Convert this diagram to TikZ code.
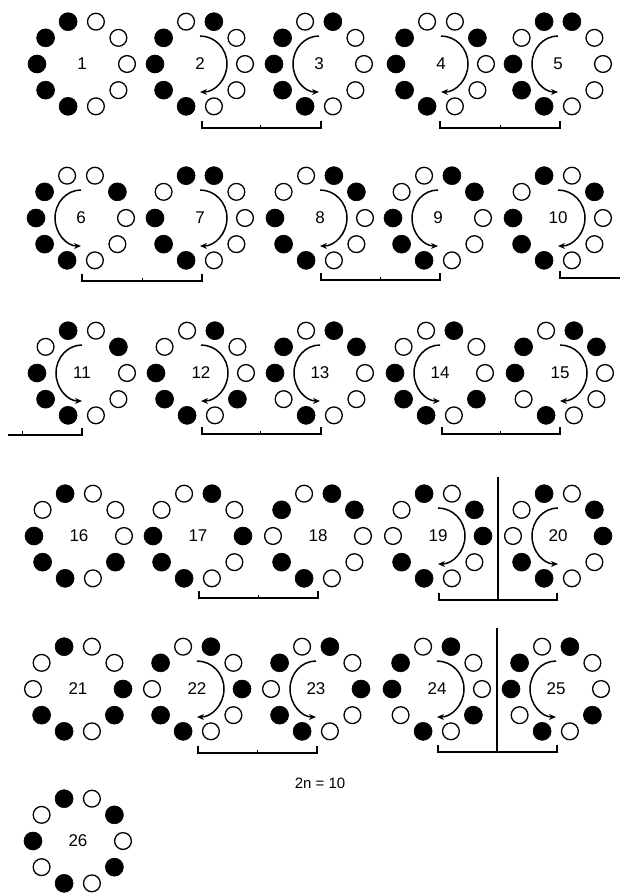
\documentclass[tikz,border=0pt]{standalone}
\usepackage{fontspec}
\setmainfont{Liberation Sans}
\usetikzlibrary{arrows.meta}
\newcommand\mkring[5]{%
  \foreach \s [count=\i from 0] in {#4} {%
    \node[\s] (#1-\i) at ({#2+45*cos(36*\i)},{#3+1-44.5*sin(36*\i)}) {};
  }%
  \node[lab] (#1) at (#2,#3+1) {#5};
}
\newcommand\cwarc[2]{\draw[arr] (#1,#2-27) arc[start angle=-90,end angle=90,x radius=27,y radius=28];}
\newcommand\ccwarc[2]{\draw[arr] (#1,#2-27) arc[start angle=270,end angle=90,x radius=26,y radius=28];}
\newcommand\mkbrk[4]{%
  \draw[brk] (#1,#3-7) -- (#1,#3) -- (#2,#3) -- (#2,#3-7);
  \draw[brk,line width=0.8pt] (#4,#3) -- (#4,#3-3);
}
\begin{document}
\begin{tikzpicture}[x=1pt,y=-1pt,
  bk/.style={circle,fill=black,draw=black,line width=0.6pt,inner sep=0pt,minimum size=18pt},
  wt/.style={circle,fill=white,draw=black,line width=1.3pt,inner sep=0pt,minimum size=16.8pt},
  lab/.style={font=\fontsize{17}{17}\selectfont,inner sep=0pt},
  arr/.style={line width=1.5pt,-{Stealth[length=7pt,width=6pt]}},
  brk/.style={line width=1.6pt},
]
\fill[white] (0,0) rectangle (620,895);
\useasboundingbox (0,0) rectangle (620,895);
% row 1
\mkring{r1}{82}{63}{wt,wt,wt,bk,bk,bk,bk,bk,wt,wt}{1}
\mkring{r2}{200}{63}{wt,wt,bk,wt,bk,bk,bk,bk,wt,wt}{2}
\mkring{r3}{319}{63}{wt,wt,bk,wt,bk,bk,bk,bk,wt,wt}{3}
\mkring{r4}{441}{63}{wt,bk,wt,wt,bk,bk,bk,bk,wt,wt}{4}
\mkring{r5}{558}{63}{wt,wt,bk,bk,wt,bk,bk,bk,wt,wt}{5}
% row 2
\mkring{r6}{81}{217}{wt,bk,wt,wt,bk,bk,bk,bk,wt,wt}{6}
\mkring{r7}{200}{217}{wt,wt,bk,bk,wt,bk,bk,bk,wt,wt}{7}
\mkring{r8}{320}{217}{wt,bk,bk,wt,wt,bk,bk,bk,wt,wt}{8}
\mkring{r9}{438}{217}{wt,bk,bk,wt,wt,bk,bk,bk,wt,wt}{9}
\mkring{r10}{558}{217}{wt,bk,wt,bk,wt,bk,bk,bk,wt,wt}{10}
% row 3
\mkring{r11}{82}{372}{wt,bk,wt,bk,wt,bk,bk,bk,wt,wt}{11}
\mkring{r12}{201}{372}{wt,wt,bk,wt,wt,bk,bk,bk,wt,bk}{12}
\mkring{r13}{320}{372}{wt,bk,bk,wt,bk,bk,wt,bk,wt,wt}{13}
\mkring{r14}{440}{372}{wt,wt,bk,wt,wt,bk,bk,bk,wt,bk}{14}
\mkring{r15}{560}{372}{wt,bk,bk,wt,bk,bk,wt,bk,wt,wt}{15}
% row 4
\mkring{r16}{79}{535}{wt,wt,wt,bk,wt,bk,bk,bk,wt,bk}{16}
\mkring{r17}{198}{535}{bk,wt,bk,wt,wt,bk,bk,bk,wt,wt}{17}
\mkring{r18}{318}{535}{wt,bk,bk,wt,bk,wt,bk,bk,wt,wt}{18}
\mkring{r19}{438}{535}{bk,bk,wt,bk,wt,wt,bk,bk,wt,wt}{19}
\mkring{r20}{558}{535}{bk,bk,wt,bk,wt,wt,bk,bk,wt,wt}{20}
% row 5
\mkring{r21}{78}{688}{bk,wt,wt,bk,wt,wt,bk,bk,wt,bk}{21}
\mkring{r22}{197}{688}{bk,wt,bk,wt,bk,wt,bk,bk,wt,wt}{22}
\mkring{r23}{316}{688}{bk,wt,bk,wt,bk,wt,bk,bk,wt,wt}{23}
\mkring{r24}{437}{688}{wt,wt,bk,wt,bk,bk,wt,bk,wt,bk}{24}
\mkring{r25}{556}{688}{wt,wt,bk,wt,bk,bk,wt,bk,wt,bk}{25}
% row 6
\mkring{r26}{78}{840}{wt,bk,wt,bk,wt,bk,wt,bk,wt,bk}{26}
% arcs
\cwarc{200}{63}  \ccwarc{319}{63}  \cwarc{441}{63}  \ccwarc{558}{63}
\ccwarc{81}{217} \cwarc{200}{217}  \cwarc{320}{217} \ccwarc{438}{217} \cwarc{558}{217}
\ccwarc{82}{372} \cwarc{201}{372}  \ccwarc{320}{372} \ccwarc{440}{372} \cwarc{560}{372}
\cwarc{438}{535} \ccwarc{558}{535}
\cwarc{197}{688} \ccwarc{316}{688} \cwarc{437}{688} \ccwarc{556}{688}
% brackets
\mkbrk{202}{321}{128}{260}
\mkbrk{440}{560}{128}{500}
\mkbrk{82}{202}{281}{142}
\mkbrk{321}{440}{280}{380}
\draw[brk] (560,271) -- (560,278) -- (620,278);
\draw[brk] (8,435) -- (82,435) -- (82,428);
\draw[brk,line width=0.8pt] (22,435) -- (22,431);
\mkbrk{202}{321}{434}{260}
\mkbrk{442}{560}{434}{500}
\mkbrk{199}{318}{598}{258}
\draw[brk] (439,593) -- (439,600) -- (557,600) -- (557,593);
\draw[brk] (498,477) -- (498,600);
\mkbrk{198}{317}{753}{257}
\draw[line width=1.1pt] (438,745) -- (438,752) -- (557,752) -- (557,745);
\draw[line width=1.1pt] (497,628) -- (497,752);
\node[font=\fontsize{15}{15}\selectfont] (lbl) at (320,783) {2n = 10};
\end{tikzpicture}
\end{document}
